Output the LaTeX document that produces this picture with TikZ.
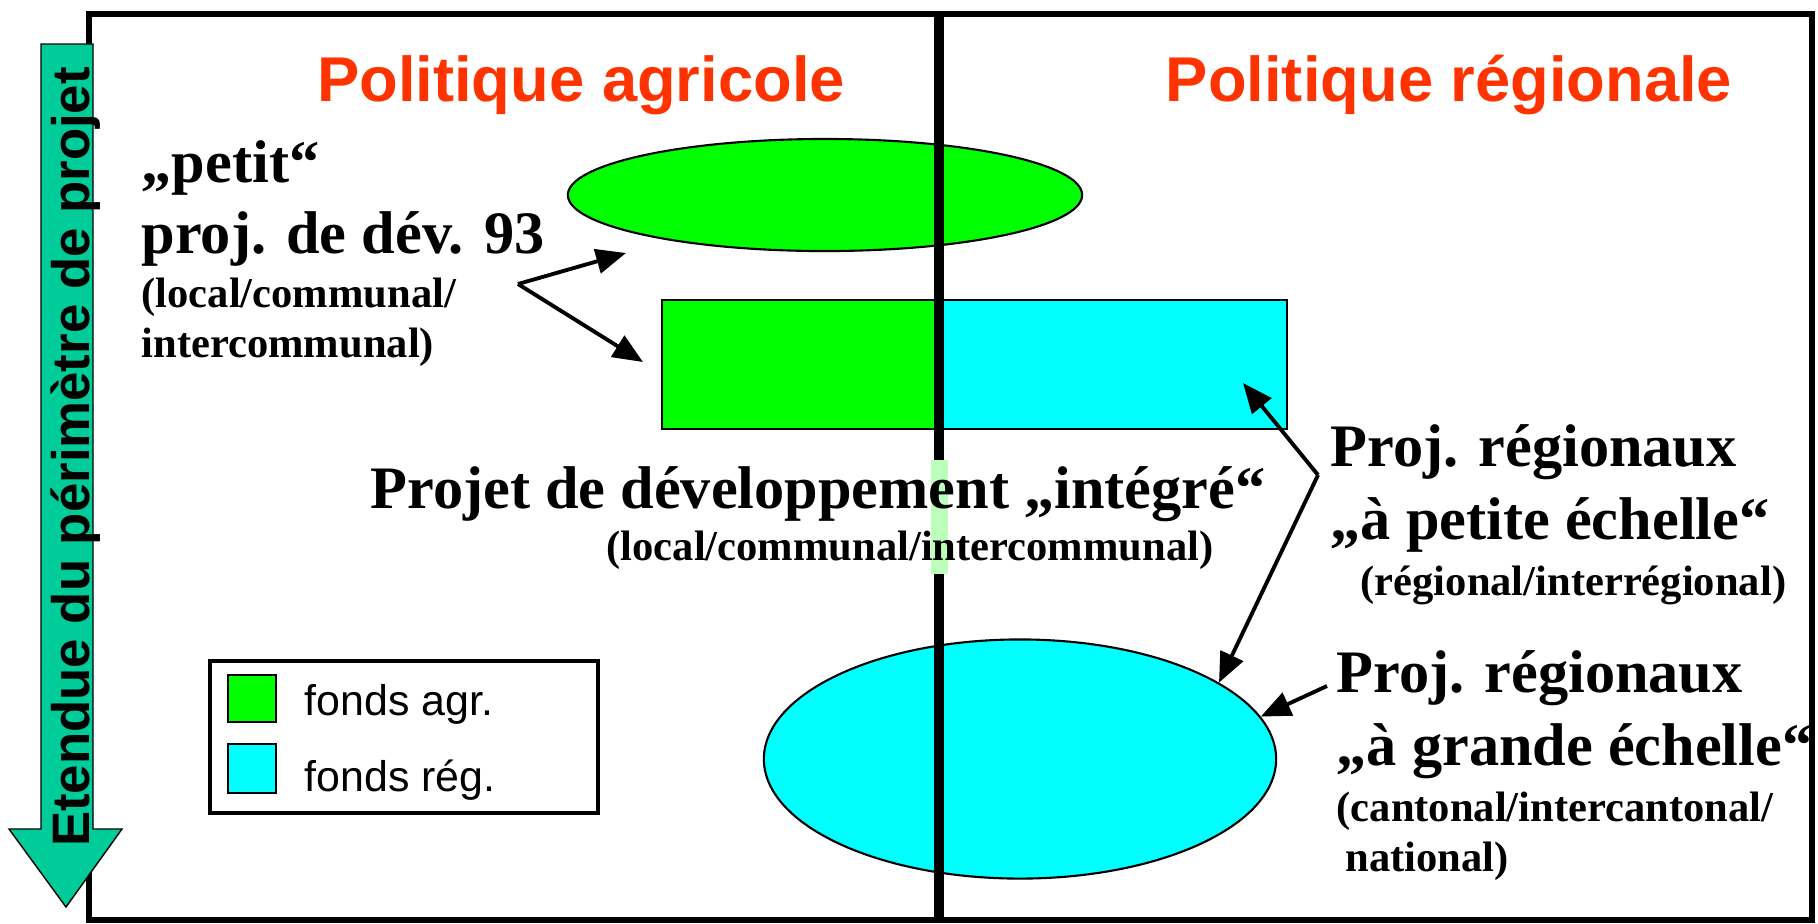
\documentclass[tikz,border=0pt]{standalone}
\usepackage{fontspec}
\setmainfont{Liberation Serif}
\setsansfont{Liberation Sans}
\usetikzlibrary{shapes}
\usetikzlibrary{positioning}
\usetikzlibrary{arrows.meta}
\definecolor{titred}{HTML}{FF3300}
\definecolor{agrgreen}{HTML}{00FF00}
\definecolor{regcyan}{HTML}{00FFFF}
\definecolor{axisteal}{HTML}{00CC99}
\definecolor{palegreen}{HTML}{BBFFBB}
\tikzset{
    headtxt/.style = {font=\sffamily\bfseries\fontsize{18pt}{22pt}\selectfont, text=titred, inner sep=0, anchor=base},
    bigtxt/.style = {font=\bfseries\fontsize{17.15pt}{21pt}\selectfont, inner sep=0, anchor=base west},
    smalltxt/.style = {font=\bfseries\fontsize{12.1pt}{14pt}\selectfont, inner sep=0, anchor=base west},
    legtxt/.style = {font=\sffamily\fontsize{12.2pt}{14pt}\selectfont, inner sep=0, anchor=base west},
    fundagr/.style = {draw=black, fill=agrgreen, semithick},
    fundreg/.style = {draw=black, fill=regcyan, semithick},
    edgen/.style = {-{Triangle[length=8.5pt,width=7pt]}, line width=1.1pt},
}
\begin{document}
\begin{tikzpicture}[x=0.01cm, y=-0.01cm]
  \useasboundingbox (0,0) rectangle (1818,923);
  % frame
  \draw[line width=1.7pt] (89,14) rectangle (1812,920);

  % projects
  \node[fundagr, ellipse, minimum width=5.14cm, minimum height=1.12cm, inner sep=0] (ellagr) at (825,195) {};
  \draw[fundagr] (662,300) rectangle (939,429);
  \draw[fundreg] (939,300) rectangle (1287,429);
  \node[fundreg, ellipse, minimum width=5.12cm, minimum height=2.39cm, inner sep=0] (ellreg) at (1020,759) {};

  % middle line
  \draw[line width=2.8pt] (939,14) -- (939,920);
  \fill[palegreen] (931,460) rectangle (948,574);

  % axis arrow
  \draw[fill=axisteal, thin] (41,44) -- (93,44) -- (93,829) -- (122,829) -- (66,907) -- (9,829) -- (41,829) -- cycle;
  \node[rotate=90, font=\sffamily\bfseries\fontsize{15pt}{18pt}\selectfont, inner sep=0, anchor=base] (axis) at (89,457) {Etendue du périmètre de projet};

  \node[headtxt] (polagr) at (581,101) {Politique agricole};
  \node[headtxt] (polreg) at (1449,101) {Politique régionale};

  \node[bigtxt] (petit) at (141,182) {„petit“};
  \node[bigtxt] (devtxt) at (141,253) {proj. de dév. 93};
  \node[smalltxt] (loca) at (141,307) {(local/communal/};
  \node[smalltxt] (locb) at (141,357) {intercommunal)};

  \node[bigtxt, anchor=base] (integ) at (818,508) {Projet de développement „intégré“};
  \node[smalltxt, anchor=base] (locc) at (910,560) {(local/communal/intercommunal)};

  \node[bigtxt] (pregA) at (1330,466) {Proj. régionaux};
  \node[bigtxt] (pregB) at (1330,539) {„à petite échelle“};
  \node[smalltxt] (pregC) at (1360,595) {(régional/interrégional)};
  \node[bigtxt] (gregA) at (1336,692) {Proj. régionaux};
  \node[bigtxt] (gregB) at (1336,765) {„à grande échelle“};
  \node[smalltxt] (gregC) at (1336,821) {(cantonal/intercantonal/};
  \node[smalltxt] (gregD) at (1345,871) {national)};

  % legend
  \draw[line width=1pt] (210,661) rectangle (598,813);
  \draw[fundagr] (228,675) rectangle (276,722);
  \draw[fundreg] (228,744) rectangle (276,793);
  \node[legtxt] (legagr) at (304,715) {fonds agr.};
  \node[legtxt] (legreg) at (304,791) {fonds rég.};

  % arrows
  \coordinate (jl) at (518,284);
  \coordinate (tipa) at (626,253);
  \coordinate (tipb) at (643,362);
  \coordinate (jr) at (1318,475);
  \coordinate (tipc) at (1243,383);
  \coordinate (jg) at (1327,686);
  \draw[edgen] (jl) -- (tipa);
  \draw[edgen] (jl) -- (tipb);
  \draw[edgen] (jr) -- (tipc);
  \draw[edgen] (jr) -- (ellreg.21);
  \draw[edgen] (jg) -- (ellreg.10);
\end{tikzpicture}
\end{document}
